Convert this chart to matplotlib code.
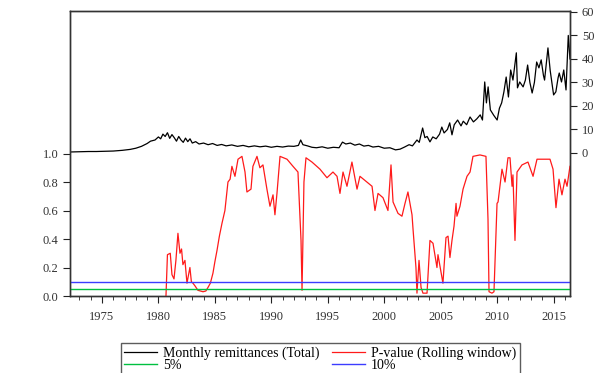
import numpy as np
import matplotlib
matplotlib.use("Agg")
import matplotlib.pyplot as plt
from matplotlib.ticker import MultipleLocator

# Monthly remittances (Total) - right axis
remit_years = [
    1972.2, 1973.0, 1973.8, 1974.5, 1975.3, 1976.0, 1976.8, 1977.5, 1978.0, 1978.5,
    1979.0, 1979.3, 1979.7, 1980.0, 1980.2, 1980.4, 1980.6, 1980.8, 1981.0, 1981.2,
    1981.4, 1981.6, 1981.8, 1982.0, 1982.2, 1982.4, 1982.6, 1982.8, 1983.0, 1983.3,
    1983.6, 1984.0, 1984.4, 1984.8, 1985.2, 1985.6, 1986.0, 1986.5, 1987.0, 1987.5,
    1988.0, 1988.5, 1989.0, 1989.5, 1990.0, 1990.5, 1991.0, 1991.5, 1992.0, 1992.4,
    1992.6, 1992.8, 1993.2, 1993.6, 1994.0, 1994.5, 1995.0, 1995.5, 1996.0, 1996.3,
    1996.6, 1997.0, 1997.4, 1997.8, 1998.2, 1998.6, 1999.0, 1999.5, 2000.0, 2000.5,
    2001.0, 2001.4, 2001.8, 2002.2, 2002.5, 2002.9, 2003.1, 2003.4, 2003.6, 2003.8,
    2004.05, 2004.3, 2004.6, 2004.9, 2005.1, 2005.3, 2005.6, 2005.8, 2006.0, 2006.2,
    2006.5, 2006.8, 2007.0, 2007.3, 2007.6, 2007.9, 2008.2, 2008.5, 2008.7, 2008.9,
    2009.05, 2009.2, 2009.4, 2009.7, 2010.0, 2010.2, 2010.4, 2010.6, 2010.8, 2011.0,
    2011.2, 2011.4, 2011.7, 2011.8, 2012.0, 2012.3, 2012.5, 2012.7, 2012.9, 2013.1,
    2013.3, 2013.5, 2013.7, 2013.9, 2014.1, 2014.2, 2014.5, 2014.7, 2014.85, 2015.0,
    2015.2, 2015.4, 2015.5, 2015.7, 2015.9, 2016.1, 2016.3, 2016.45,
]
remit_values = [
    0.4, 0.5, 0.6, 0.6, 0.7, 0.8, 1.1, 1.5, 2.0, 2.8,
    4.0, 5.0, 5.5, 6.8, 6.0, 8.0, 7.0, 8.6, 6.2, 7.8,
    6.5, 5.0, 7.0, 5.5, 4.5, 6.3, 4.8, 6.0, 4.2, 4.8,
    3.8, 4.2, 3.5, 4.0, 3.2, 3.6, 3.0, 3.4, 2.8, 3.2,
    2.6, 3.0, 2.6, 2.9, 2.4, 2.8, 2.5, 2.9, 2.8, 3.2,
    5.5, 3.5, 3.0, 2.4, 2.2, 2.6, 2.0, 2.4, 2.2, 4.6,
    3.8, 4.2, 3.3, 3.8, 2.9, 3.2, 2.5, 2.8, 2.0, 2.2,
    1.3, 1.6, 2.5, 3.5, 3.0, 5.5, 4.5, 10.6, 6.5, 7.0,
    4.7, 6.8, 6.0, 8.0, 11.0, 8.5, 10.0, 12.8, 7.7, 12.0,
    14.0, 11.5, 13.5, 12.0, 15.3, 13.2, 14.5, 16.2, 14.0, 30.2,
    21.3, 28.1, 18.3, 16.0, 14.0, 19.0, 21.3, 26.0, 32.3, 23.8,
    35.3, 31.0, 42.6, 27.7, 30.2, 28.1, 31.0, 37.4, 30.0, 25.5,
    30.0, 38.7, 36.2, 39.6, 33.0, 31.0, 44.7, 35.0, 29.8, 24.7,
    26.0, 32.0, 34.0, 30.2, 35.3, 26.8, 50.0, 40.0,
]

# P-value (Rolling window) - left axis
pval_years = [
    1980.67, 1980.80, 1981.05, 1981.20, 1981.38, 1981.55, 1981.73, 1981.91, 1982.05, 1982.17,
    1982.35, 1982.53, 1982.65, 1982.79, 1982.92, 1983.06, 1983.25, 1983.50, 1983.95, 1984.20,
    1984.39, 1984.60, 1984.83, 1985.00, 1985.19, 1985.40, 1985.63, 1985.89, 1986.16, 1986.35,
    1986.51, 1986.78, 1987.05, 1987.40, 1987.67, 1987.84, 1988.20, 1988.37, 1988.73, 1988.99,
    1989.26, 1989.61, 1989.88, 1990.15, 1990.32, 1990.50, 1990.77, 1991.39, 1991.92, 1992.36,
    1992.63, 1992.72, 1992.89, 1993.07, 1993.60, 1994.31, 1994.93, 1995.46, 1995.82, 1996.08,
    1996.35, 1996.70, 1997.14, 1997.59, 1997.85, 1998.47, 1998.92, 1999.18, 1999.45, 1999.89,
    2000.33, 2000.60, 2000.78, 2001.22, 2001.57, 2001.84, 2002.10, 2002.46, 2002.55, 2002.81,
    2002.90, 2003.08, 2003.26, 2003.43, 2003.79, 2004.05, 2004.32, 2004.67, 2004.76, 2005.20,
    2005.47, 2005.65, 2005.82, 2006.00, 2006.18, 2006.36, 2006.44, 2006.71, 2006.98, 2007.33,
    2007.60, 2007.86, 2008.48, 2009.01, 2009.19, 2009.28, 2009.54, 2009.72, 2009.99, 2010.08,
    2010.43, 2010.70, 2010.96, 2011.14, 2011.32, 2011.40, 2011.58, 2011.76, 2012.20, 2012.73,
    2013.18, 2013.53, 2014.68, 2014.95, 2015.21, 2015.48, 2015.74, 2016.01, 2016.19, 2016.45,
]
pval_values = [
    0.00, 0.29, 0.30, 0.15, 0.12, 0.25, 0.44, 0.30, 0.33, 0.22,
    0.25, 0.09, 0.14, 0.20, 0.10, 0.09, 0.07, 0.04, 0.03, 0.035,
    0.06, 0.09, 0.16, 0.24, 0.32, 0.42, 0.51, 0.60, 0.80, 0.82,
    0.91, 0.84, 0.96, 0.98, 0.87, 0.73, 0.75, 0.91, 0.98, 0.90,
    0.92, 0.75, 0.63, 0.71, 0.57, 0.72, 0.98, 0.96, 0.91, 0.87,
    0.39, 0.04, 0.80, 0.97, 0.94, 0.89, 0.83, 0.87, 0.84, 0.72,
    0.87, 0.77, 0.94, 0.75, 0.84, 0.80, 0.77, 0.60, 0.72, 0.69,
    0.60, 0.92, 0.66, 0.58, 0.56, 0.65, 0.73, 0.57, 0.47, 0.20,
    0.02, 0.25, 0.06, 0.02, 0.02, 0.39, 0.37, 0.20, 0.29, 0.09,
    0.41, 0.42, 0.27, 0.39, 0.49, 0.65, 0.56, 0.63, 0.75, 0.84,
    0.87, 0.98, 0.99, 0.98, 0.54, 0.03, 0.02, 0.03, 0.65, 0.66,
    0.89, 0.80, 0.97, 0.97, 0.77, 0.85, 0.39, 0.87, 0.92, 0.94,
    0.84, 0.96, 0.96, 0.89, 0.62, 0.82, 0.71, 0.82, 0.77, 0.91,
]

# significance levels
level_5 = 0.05
level_10 = 0.10

plt.rcParams['font.family'] = ['Liberation Serif', 'DejaVu Serif']
plt.rcParams['font.size'] = 9

fig = plt.figure(figsize=(6.05, 3.73), dpi=100)
ax = fig.add_axes([0.1157, 0.2064, 0.8264, 0.7641])
ax2 = ax.twinx()

# black series on the right axis
l_remit, = ax2.plot(remit_years, remit_values, color='black', lw=0.9)

# p-value and thresholds on the left axis
l_pval, = ax.plot(pval_years, pval_values, color='#ff1a1a', lw=0.9)
l_5 = ax.axhline(level_5, color='#00c040', lw=1.0)
l_10 = ax.axhline(level_10, color='#3c3cff', lw=1.0)

ax.set_zorder(ax2.get_zorder() + 1)
ax.patch.set_visible(False)

ax.set_xlim(1972.17, 2016.45)
ax.set_ylim(0, 2.0)
ax2.set_ylim(-60.9, 60.4)

ax.set_yticks(np.arange(0, 1.01, 0.2))
ax.yaxis.set_major_formatter(plt.FormatStrFormatter('%.1f'))
ax2.set_yticks(np.arange(0, 61, 10))

ax.xaxis.set_major_locator(MultipleLocator(5))
ax.xaxis.set_minor_locator(MultipleLocator(1))

for a in (ax, ax2):
    a.tick_params(which='both', direction='out', colors='#222222', labelcolor='#333333')
    a.tick_params(which='major', length=5)
    a.tick_params(which='minor', length=3)
    for s in a.spines.values():
        s.set_color('#333333')
        s.set_linewidth(1.0)

ax.tick_params(axis='x', pad=6)

handles = [l_remit, l_5, l_pval, l_10]
labels = ['Monthly remittances (Total)', '5%', 'P-value (Rolling window)', '10%']
leg = fig.legend(handles, labels, ncol=2, loc='upper center',
                 bbox_to_anchor=(0.529, 0.099), frameon=True, fancybox=False,
                 edgecolor='#333333', fontsize=10, handlelength=2.4,
                 columnspacing=0.9, borderpad=0.25, labelspacing=-0.1,
                 handletextpad=0.4)
leg.get_frame().set_linewidth(1.0)

fig.savefig('out.png', dpi=100)
